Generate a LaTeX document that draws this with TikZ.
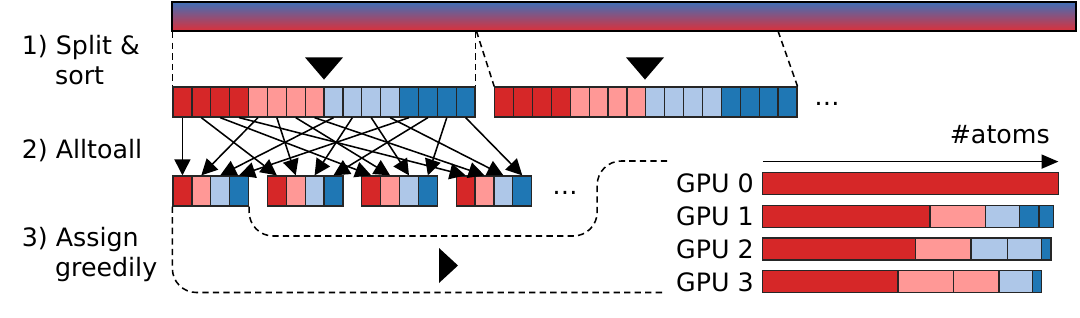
\documentclass[tikz,border=0pt]{standalone}
\usepackage{fontspec}
\setmainfont{DejaVu Sans}
\usetikzlibrary{arrows.meta}
\definecolor{cr}{HTML}{D62728}
\definecolor{cp}{HTML}{FF9896}
\definecolor{cl}{HTML}{AEC7E8}
\definecolor{cb}{HTML}{1F77B4}
\definecolor{barblue}{RGB}{64,112,184}
\definecolor{barred}{RGB}{220,48,58}

\begin{document}
\begin{tikzpicture}[x=1cm,y=1cm,
  cell/.style={draw=black!85,line width=0.9pt,minimum width=0.472cm,minimum height=0.75cm,inner sep=0pt},
  flow/.style={-{Triangle[length=0.4cm,width=0.4cm]},line width=1.1pt},
  guide/.style={dash pattern=on 4.5pt off 3pt,line width=1.1pt},
  lbl/.style={font=\fontsize{18}{21.3}\selectfont,inner sep=0pt},
  seg/.style={draw=black!85,line width=0.9pt}]
\useasboundingbox (0,0) rectangle (27,-7.925);
\node[draw,line width=1.6pt,top color=barblue,bottom color=barred,minimum width=22.6cm,minimum height=0.725cm,inner sep=0pt] (bar) at (15.6,-0.4125){};
\node[lbl,anchor=base west,align=left] (step1) at (0.54,-2.1){1) Split \&\\\hspace{0.83cm}sort};
\node[lbl,anchor=base west] (step2) at (0.54,-3.96){2) Alltoall};
\node[lbl,anchor=base west,align=left] (step3) at (0.54,-6.92){3) Assign\\\hspace{0.83cm}greedily};
\foreach \c [count=\k from 0] in {cr,cp,cl,cb}{\foreach \g in {0,...,3}{\pgfmathtruncatemacro\i{4*\k+\g}
  \node[cell,fill=\c] (a\i) at ({4.325+0.472*(\i+0.5)},-2.55){};
  \node[cell,fill=\c] (b\i) at ({12.37+0.472*(\i+0.5)},-2.55){};
  \node[cell,fill=\c] (s\g-\k) at ({4.325+2.36*\g+0.472*(\k+0.5)},-4.775){};}}
\node[lbl,anchor=base west] (dots1) at (20.35,-2.625){…};
\node[lbl,anchor=base west] (dots2) at (13.8,-4.85){…};
\coordinate (cut1) at (11.91,-0.775);\coordinate (cut2) at (19.45,-0.775);
\draw[guide] (bar.south -| a0.north west)--(a0.north west) (bar.south -| a15.north east)--(a15.north east);
\draw[guide] (cut1)--(b0.north west) (cut2)--(b15.north east);
\fill (7.625,-1.435)--(8.575,-1.435)--(8.1,-1.99)--cycle;\fill (15.65,-1.435)--(16.6,-1.435)--(16.125,-1.99)--cycle;
\foreach \k in {0,...,3}{\foreach \g in {0,...,3}{\pgfmathtruncatemacro\i{4*\k+\g}\draw[flow] (a\i.south)--(s\g-\k.north);}}
\coordinate (end1) at (16.63,-7.3125);\coordinate (end2) at (16.75,-4.025);
\draw[guide,rounded corners=0.6cm] (s0-0.south west) |- (end1);
\draw[guide,rounded corners=0.6cm] (s0-3.south east) |- (14.93,-5.9) |- (end2);
\fill (10.975,-6.2)--(11.45,-6.6375)--(10.975,-7.075)--cycle;
\coordinate (ax0) at (19.07,-4.04);\coordinate (ax1) at (26.46,-4.04);
\draw[-{Triangle[length=0.42cm,width=0.35cm]},line width=1.1pt] (ax0)--(ax1);
\node[lbl,anchor=base east] (atoms) at (26.25,-3.575){\#atoms};
\foreach \k in {0,...,3}{\node[lbl,anchor=east] (gpu\k) at (18.85,{-4.585-0.82*\k}){GPU \k};}
\draw[seg,fill=cr] (19.07,-4.31) rectangle (26.46,-4.86);
\foreach \a/\b/\c in {19.07/23.25/cr,23.25/24.64/cp,24.64/25.49/cl,25.49/25.975/cb,25.975/26.33/cb}{\draw[seg,fill=\c] (\a,-5.13) rectangle (\b,-5.68);}
\foreach \a/\b/\c in {19.07/22.88/cr,22.88/24.275/cp,24.275/25.19/cl,25.19/26.04/cl,26.04/26.275/cb}{\draw[seg,fill=\c] (\a,-5.95) rectangle (\b,-6.5);}
\foreach \a/\b/\c in {19.07/22.45/cr,22.45/23.83/cp,23.83/24.975/cp,24.975/25.82/cl,25.82/26.04/cb}{\draw[seg,fill=\c] (\a,-6.77) rectangle (\b,-7.32);}
\end{tikzpicture}
\end{document}
